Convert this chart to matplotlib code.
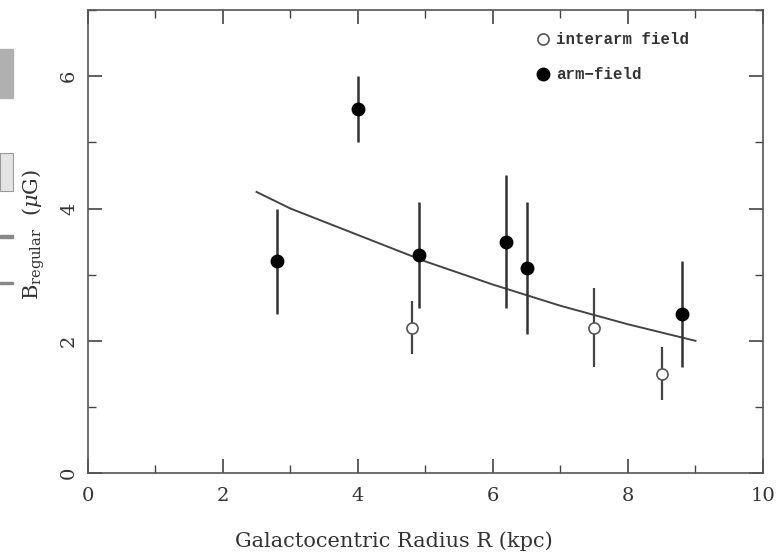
import matplotlib
matplotlib.use("Agg")
import matplotlib.pyplot as plt
from matplotlib.lines import Line2D
from matplotlib.patches import Rectangle
from matplotlib.ticker import MultipleLocator

# arm-field measurements (filled)
arm_r = [2.8, 4.0, 4.9, 6.2, 6.5, 8.8]
arm_b = [3.2, 5.5, 3.3, 3.5, 3.1, 2.4]
arm_err = [0.8, 0.5, 0.8, 1.0, 1.0, 0.8]

# interarm measurements (open)
inter_r = [4.8, 7.5, 8.5]
inter_b = [2.2, 2.2, 1.5]
inter_err = [0.4, 0.6, 0.4]

# fitted radial profile
fit_r = [2.5, 3.0, 4.0, 5.0, 6.0, 7.0, 8.0, 9.0]
fit_b = [4.25, 4.0, 3.6, 3.2, 2.85, 2.53, 2.25, 2.0]

plt.rcParams['font.family'] = ['DejaVu Serif']
plt.rcParams['mathtext.fontset'] = 'dejavuserif'

fig = plt.figure(figsize=(7.77, 5.56), dpi=100)
ax = fig.add_axes([0.113, 0.149, 0.869, 0.833])

ax.plot(fit_r, fit_b, color='#444444', lw=1.4, zorder=2)

ax.errorbar(arm_r, arm_b, yerr=arm_err, fmt='o', color='black',
            ecolor='#333333', elinewidth=1.8, capsize=0, markersize=9,
            zorder=3)
ax.errorbar(inter_r, inter_b, yerr=inter_err, fmt='o', color='#333333',
            mfc='white', mec='#555555', mew=1.2, ecolor='#444444',
            elinewidth=1.6, capsize=0, markersize=8, zorder=3)

ax.set_xlim(0, 10)
ax.set_ylim(0, 7)
ax.xaxis.set_major_locator(MultipleLocator(2))
ax.xaxis.set_minor_locator(MultipleLocator(1))
ax.yaxis.set_major_locator(MultipleLocator(2))
ax.yaxis.set_minor_locator(MultipleLocator(1))
ax.tick_params(which='both', direction='in', top=True, right=True,
               color='#444444')
ax.tick_params(which='major', length=10, width=1.2, labelsize=14, pad=10,
               labelcolor='#333333')
ax.tick_params(which='minor', length=6, width=1.0)
ax.tick_params(axis='y', labelrotation=90, pad=7)
for lbl in ax.get_yticklabels():
    lbl.set_va('center')
for s in ax.spines.values():
    s.set_color('#555555')
    s.set_linewidth(1.2)

ax.set_xlabel('Galactocentric Radius R (kpc)', fontsize=15,
              color='#333333')
ax.xaxis.set_label_coords(0.453, -0.125)
ax.set_ylabel(r'B$_{\rm regular}$  ($\mu$G)', fontsize=15,
              color='#333333')
ax.yaxis.set_label_coords(-0.06, 0.515)

handles = [
    Line2D([], [], ls='none', marker='o', mfc='white', mec='#555555',
           mew=1.2, markersize=8),
    Line2D([], [], ls='none', marker='o', color='black', markersize=9),
]
leg = ax.legend(handles, ['interarm field', 'arm\u2212field'],
                loc='upper left', bbox_to_anchor=(0.642, 0.983),
                frameon=False, handlelength=1.0, handletextpad=0.3,
                labelspacing=1.3,
                prop={'family': 'Liberation Mono', 'weight': 'bold',
                      'size': 11.3})
for t in leg.get_texts():
    t.set_color('#333333')

# gray page fragments on the left edge
fig.patches.append(Rectangle((0, 0.824), 0.017, 0.088, color='#b0b0b0',
                             transform=fig.transFigure, figure=fig))
fig.patches.append(Rectangle((0, 0.657), 0.017, 0.067, color='#e4e4e4',
                             ec='#999999', lw=0.8,
                             transform=fig.transFigure, figure=fig))
fig.patches.append(Rectangle((0, 0.572), 0.017, 0.006, color='#888888',
                             transform=fig.transFigure, figure=fig))
fig.patches.append(Rectangle((0, 0.489), 0.017, 0.003, color='#888888',
                             transform=fig.transFigure, figure=fig))

fig.savefig('out.png', dpi=100)
